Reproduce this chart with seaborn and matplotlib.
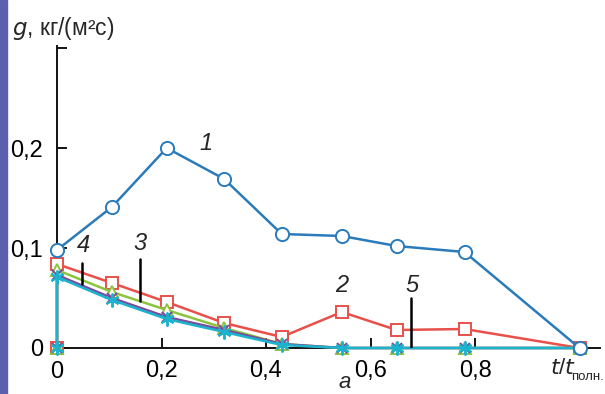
import matplotlib
matplotlib.use("Agg")
import matplotlib.pyplot as plt
import seaborn as sns
import pandas as pd
from matplotlib.patches import Rectangle

sns.set_style("white")
plt.rcParams['font.family'] = ['Liberation Sans', 'DejaVu Sans']

# data
t1 = [0.0, 0.105, 0.21, 0.32, 0.43, 0.545, 0.65, 0.78, 1.0]
g1 = [0.098, 0.141, 0.200, 0.169, 0.114, 0.112, 0.102, 0.096, 0.0]
t_rest = [0.0, 0.0, 0.105, 0.21, 0.32, 0.43, 0.545, 0.65, 0.78, 1.0]
g2 = [0.0, 0.084, 0.065, 0.046, 0.025, 0.011, 0.036, 0.018, 0.019, 0.0]
g3 = [0.0, 0.078, 0.056, 0.038, 0.020, 0.004, 0.0, 0.0, 0.0, 0.0]
g4 = [0.0, 0.073, 0.050, 0.031, 0.018, 0.004, 0.0, 0.0, 0.0, 0.0]
g5 = [0.0, 0.071, 0.048, 0.029, 0.016, 0.003, 0.0, 0.0, 0.0, 0.0]
xticks = [0, 0.2, 0.4, 0.6, 0.8]
xticklabels = ["0", "0,2", "0,4", "0,6", "0,8"]
yticks = [0, 0.1, 0.2, 0.3]
yticklabels = ["0", "0,1", "0,2", ""]

fig = plt.figure(figsize=(6.05, 3.94), dpi=100)
fig.patches.append(Rectangle((0, 0), 7 / 605, 1, transform=fig.transFigure,
                             color="#5a60ae", zorder=0))
ax = fig.add_axes([57 / 605, 1 - 348 / 394, (600 - 57) / 605, 302 / 394])

styles = [
    (t_rest, g2, "#e8504a", "s", "white", 9),
    (t_rest, g3, "#8cc43f", "^", "white", 8),
    (t_rest, g4, "#7a4b9c", "x", "#7a4b9c", 7),
    (t_rest, g5, "#1cb3cf", (6, 2, 0), "#1cb3cf", 10),
    (t1, g1, "#2a7bbb", "o", "white", 9.5),
]
for x, y, c, m, fc, ms in styles:
    df = pd.DataFrame({"t": x, "g": y})
    sns.lineplot(data=df, x="t", y="g", ax=ax, estimator=None, sort=False,
                 color=c, linewidth=1.8, marker=m, markersize=ms,
                 markerfacecolor=fc, markeredgecolor=c, markeredgewidth=1.4,
                 clip_on=False, zorder=3)

ax.set_xlim(0, (600 - 57) / 522.5)
ax.set_ylim(0, 0.302)
ax.set_xticks(xticks)
ax.set_xticklabels(xticklabels)
ax.set_yticks(yticks)
ax.set_yticklabels(yticklabels)
ax.tick_params(axis="both", direction="in", length=7, width=1.3,
               labelsize=17, colors="black", bottom=True, left=True)
ax.tick_params(axis="y", pad=10)
ax.tick_params(axis="x", pad=9)
for s in ["top", "right"]:
    ax.spines[s].set_visible(False)
for s in ["left", "bottom"]:
    ax.spines[s].set_color("#111111")
    ax.spines[s].set_linewidth(1.4)
ax.set_xlabel("")
ax.set_ylabel("")

# annotations
fig.text(12 / 605, 1 - 28 / 394, "$g$, кг/(м²с)", fontsize=16.5, va="center", ha="left")
fig.text(550 / 605, 1 - 368 / 394, "$t$/$t$", fontsize=16, va="center", ha="left")
fig.text(604 / 605, 1 - 377 / 394, "полн.", fontsize=9.5, va="center", ha="right")
fig.text(345 / 605, 1 / 394, "а", fontsize=16, style="italic", va="bottom", ha="center")

ax.text(0.285, 0.205, "1", fontsize=17, style="italic", ha="center", va="center")
ax.text(0.545, 0.062, "2", fontsize=17, style="italic", ha="center", va="center")
ax.text(0.159, 0.104, "3", fontsize=17, style="italic", ha="center", va="center")
ax.text(0.050, 0.102, "4", fontsize=17, style="italic", ha="center", va="center")
ax.text(0.68, 0.063, "5", fontsize=17, style="italic", ha="center", va="center")
ax.plot([0.159, 0.159], [0.089, 0.047], color="black", lw=1.8, zorder=4)
ax.plot([0.048, 0.048], [0.085, 0.064], color="black", lw=1.8, zorder=4)
ax.plot([0.678, 0.678], [0.05, 0.0], color="black", lw=1.8, zorder=4)

fig.savefig("out.png", dpi=100)
